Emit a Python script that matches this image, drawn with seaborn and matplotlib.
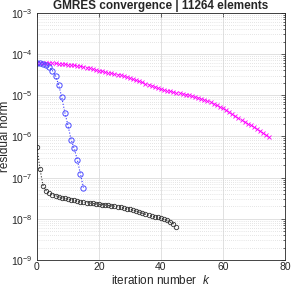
import numpy as np
import pandas as pd
import seaborn as sns
import matplotlib.pyplot as plt
from matplotlib.ticker import LogLocator, NullFormatter, NullLocator

# log10 of residual norm
gmres_a_log = [
    -4.220, -4.221, -4.222, -4.223, -4.224, -4.226, -4.228, -4.232, -4.238, -4.245,
    -4.253, -4.262, -4.272, -4.282, -4.293, -4.310, -4.328, -4.346, -4.364, -4.382,
    -4.400, -4.416, -4.432, -4.448, -4.464, -4.480, -4.496, -4.512, -4.536, -4.560,
    -4.585, -4.610, -4.635, -4.660, -4.687, -4.714, -4.741, -4.768, -4.795, -4.822,
    -4.850, -4.868, -4.885, -4.902, -4.918, -4.934, -4.950, -4.966, -4.983, -5.000,
    -5.020, -5.040, -5.060, -5.082, -5.105, -5.130, -5.165, -5.205, -5.245, -5.285,
    -5.320, -5.368, -5.416, -5.464, -5.512, -5.560, -5.602, -5.644, -5.686, -5.728,
    -5.770, -5.820, -5.870, -5.920, -5.970, -6.020,
]
gmres_b_log = [
    -4.223, -4.223, -4.240, -4.264, -4.319, -4.400, -4.535, -4.743, -5.048, -5.422,
    -5.727, -6.074, -6.290, -6.560, -6.900, -7.240,
]
gmres_c_log = [
    -6.26, -6.80, -7.21, -7.32, -7.38, -7.41, -7.44, -7.465, -7.49, -7.505,
    -7.52, -7.535, -7.55, -7.565, -7.58, -7.595, -7.605, -7.615, -7.625, -7.635,
    -7.645, -7.655, -7.665, -7.675, -7.685, -7.695, -7.71, -7.72, -7.735, -7.75,
    -7.765, -7.785, -7.81, -7.835, -7.86, -7.885, -7.91, -7.93, -7.95, -7.965,
    -7.985, -8.01, -8.04, -8.08, -8.12, -8.20,
]

x_ticks = [0, 20, 40, 60, 80]


def make_frame(logs):
    return pd.DataFrame({"k": np.arange(len(logs)), "res": 10.0 ** np.array(logs)})


sns.set_style("white")
plt.rcParams['font.family'] = ['Liberation Sans', 'DejaVu Sans']
plt.rcParams['mathtext.fontset'] = 'custom'
plt.rcParams['mathtext.rm'] = 'Liberation Sans'
plt.rcParams['mathtext.it'] = 'Liberation Sans:italic'

fig = plt.figure(figsize=(2.91, 2.89), dpi=100)
ax = fig.add_axes([0.127, 0.1003, 0.852, 0.855])

sns.lineplot(data=make_frame(gmres_a_log), x="k", y="res", ax=ax, color="#ff00ff",
             linestyle=":", linewidth=0.8, marker="x", markersize=2.8,
             markeredgecolor="#ff00ff", markeredgewidth=0.6)
sns.lineplot(data=make_frame(gmres_b_log), x="k", y="res", ax=ax, color="#3a3aff",
             linestyle=":", linewidth=0.8, marker="o", markersize=3.8,
             markerfacecolor="none", markeredgecolor="#4a4aff", markeredgewidth=0.7)
sns.lineplot(data=make_frame(gmres_c_log), x="k", y="res", ax=ax, color="#333333",
             linestyle=":", linewidth=0.8, marker="o", markersize=3.2,
             markerfacecolor="none", markeredgecolor="#333333", markeredgewidth=0.6)

ax.set_yscale("log")
ax.set_xlim(0, 80)
ax.set_ylim(1e-9, 1e-3)
ax.set_xticks(x_ticks)
ax.yaxis.set_major_locator(LogLocator(base=10, numticks=10))
ax.yaxis.set_minor_locator(LogLocator(base=10, subs=np.arange(2, 10), numticks=100))
ax.yaxis.set_minor_formatter(NullFormatter())
ax.xaxis.set_minor_locator(NullLocator())

ax.grid(True, which="major", color="#dcdcdc", linewidth=0.6, linestyle="-")
ax.grid(True, which="minor", axis="y", color="#cccccc", linewidth=0.5, linestyle=(0, (1, 2)))
ax.set_axisbelow(True)

for side in ax.spines.values():
    side.set_color("#262626")
    side.set_linewidth(0.6)
ax.tick_params(which="both", direction="in", top=True, right=True, colors="#262626",
               labelsize=7.5, width=0.5, pad=3)
ax.tick_params(axis="x", pad=1.5)
ax.tick_params(which="major", length=3)
ax.tick_params(which="minor", length=1.5)

ax.set_title("GMRES convergence | 11264 elements", fontsize=8.5, fontweight="bold", pad=3)
ax.set_xlabel("iteration number  $k$", fontsize=8.5)
ax.set_ylabel("residual norm", fontsize=8.5)
ax.xaxis.set_label_coords(0.5, -0.058)
ax.yaxis.set_label_coords(-0.103, 0.5)

fig.savefig("out.png", dpi=100)
